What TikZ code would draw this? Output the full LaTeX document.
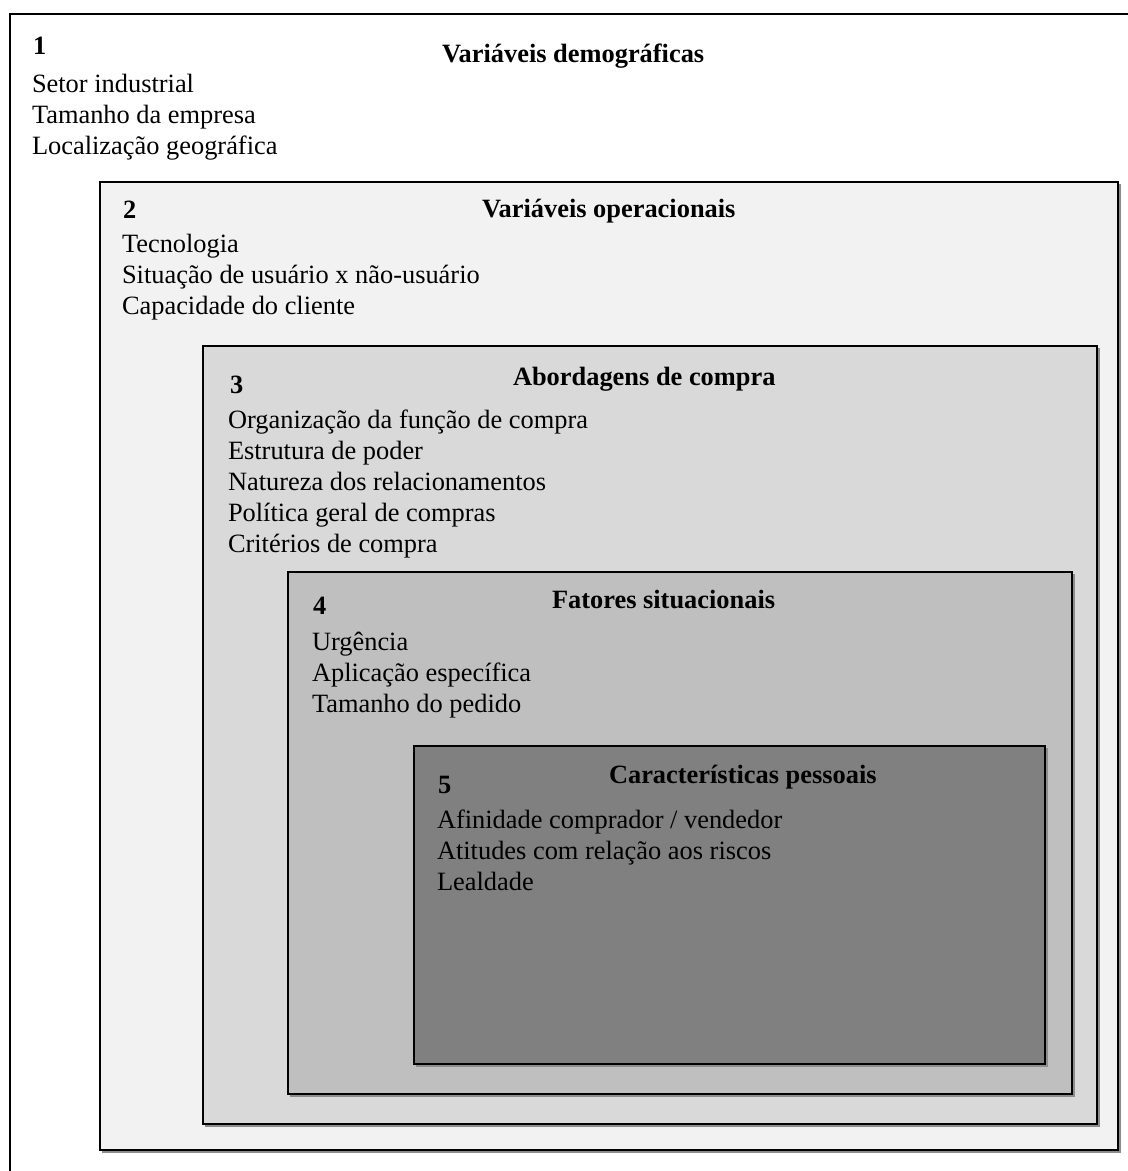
\documentclass[tikz,border=0pt]{standalone}
\usepackage{fontspec}
\setmainfont{Liberation Serif}
\begin{document}
\begin{tikzpicture}[x=1pt,y=-1pt,
  txt/.style={anchor=base west,inner sep=0pt,outer sep=0pt,font=\fontsize{26.4}{31}\selectfont},
  ttl/.style={txt,font=\fontsize{26.4}{31}\selectfont\bfseries},
  boxline/.style={draw=black,line width=1.6pt},
  shadowline/.style={draw=black!45,line width=1.2pt}]
\useasboundingbox (0,0) rectangle (1128,1171);
\fill[white] (0,0) rectangle (1128,1171);
% box 1 (open to the right and bottom)
\draw[boxline] (10,1175) -- (10,14) -- (1132,14);
% box 2
\fill[black!5] (100,182) rectangle (1118,1150);
\draw[shadowline] (102,1152) -- (1120,1152) -- (1120,184);
\draw[boxline] (100,182) rectangle (1118,1150);
% box 3
\fill[black!15] (203,346) rectangle (1097,1124);
\draw[shadowline] (205,1126) -- (1099,1126) -- (1099,348);
\draw[boxline] (203,346) rectangle (1097,1124);
% box 4
\fill[black!25] (288,572) rectangle (1072,1094);
\draw[shadowline] (290,1096) -- (1074,1096) -- (1074,574);
\draw[boxline] (288,572) rectangle (1072,1094);
% box 5
\fill[black!50] (414,746) rectangle (1045,1064);
\draw[shadowline] (416,1066) -- (1047,1066) -- (1047,748);
\draw[boxline] (414,746) rectangle (1045,1064);
% texts box 1
\node[ttl] (n1) at (33,54) {1};
\node[ttl] (t1) at (442,62) {Variáveis demográficas};
\node[txt] (a1) at (32,92) {Setor industrial};
\node[txt] (a2) at (32,123) {Tamanho da empresa};
\node[txt] (a3) at (32,154) {Localização geográfica};
% texts box 2
\node[ttl] (n2) at (123,218) {2};
\node[ttl] (t2) at (482,217) {Variáveis operacionais};
\node[txt] (b1) at (122,252) {Tecnologia};
\node[txt] (b2) at (122,283) {Situação de usuário x não-usuário};
\node[txt] (b3) at (122,314) {Capacidade do cliente};
% texts box 3
\node[ttl] (n3) at (230,393) {3};
\node[ttl] (t3) at (513,385) {Abordagens de compra};
\node[txt] (c1) at (228,428) {Organização da função de compra};
\node[txt] (c2) at (228,459) {Estrutura de poder};
\node[txt] (c3) at (228,490) {Natureza dos relacionamentos};
\node[txt] (c4) at (228,521) {Política geral de compras};
\node[txt] (c5) at (228,552) {Critérios de compra};
% texts box 4
\node[ttl] (n4) at (313,614) {4};
\node[ttl] (t4) at (552,608) {Fatores situacionais};
\node[txt] (d1) at (312,650) {Urgência};
\node[txt] (d2) at (312,681) {Aplicação específica};
\node[txt] (d3) at (312,712) {Tamanho do pedido};
% texts box 5
\node[ttl] (n5) at (438,793) {5};
\node[ttl] (t5) at (609,783) {Características pessoais};
\node[txt] (e1) at (437,828) {Afinidade comprador / vendedor};
\node[txt] (e2) at (437,859) {Atitudes com relação aos riscos};
\node[txt] (e3) at (437,890) {Lealdade};
\end{tikzpicture}
\end{document}
